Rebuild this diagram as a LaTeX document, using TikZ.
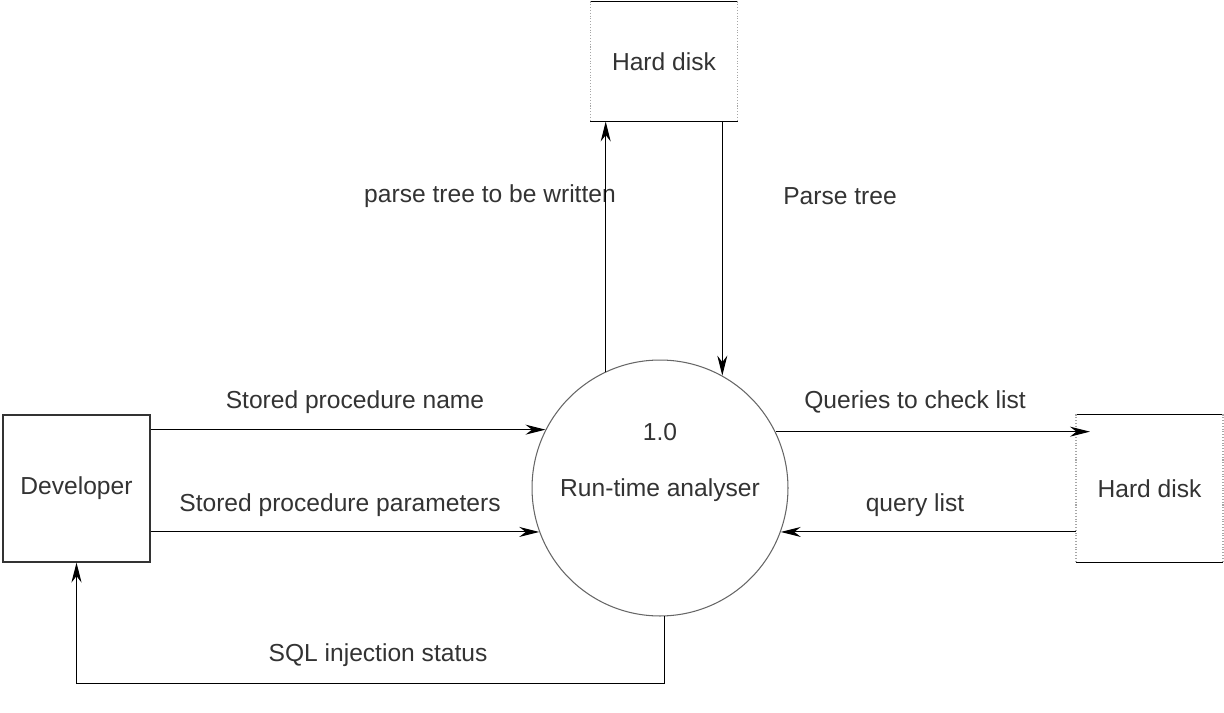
\documentclass[tikz,border=0pt]{standalone}
\usepackage{fontspec}
\setmainfont{Liberation Sans}
\usetikzlibrary{arrows.meta}

\begin{document}
\begin{tikzpicture}
  [x=0.02cm,y=-0.02cm,line width=0.6pt,
   every node/.style={font=\fontsize{14}{17}\selectfont,text=black!80},
   entity/.style={draw=black!80,inner sep=0pt,minimum width=2.94cm,minimum height=2.94cm},
   store/.style={inner sep=0pt,minimum width=2.92cm},
   process/.style={circle,draw=black!60,inner sep=0pt,minimum size=5.12cm},
   flow/.style={-{Stealth[length=4mm,width=2mm]}}]
  \useasboundingbox (0,0) rectangle (1224,713);

  \node[entity] (dev) at (76.5,488.5) {Developer};
  \node[process] (run) at (660,488) {};
  \node (num) at (660,432) {1.0};
  \node (name) at (660,490) {Run-time analyser};
  \node[store,minimum height=2.38cm] (hd1) at (664,61.5) {Hard disk};
  \node[store,minimum height=2.94cm] (hd2) at (1149.5,488.5) {Hard disk};

  % data stores: solid top and bottom, faint sides
  \foreach \s in {hd1,hd2} {
    \draw (\s.north west) -- (\s.north east);
    \draw (\s.south west) -- (\s.south east);
    \draw[black!35,densely dotted] (\s.north west) -- (\s.south west);
    \draw[black!35,densely dotted] (\s.north east) -- (\s.south east);
  }

  \node (l1) at (355,402) {Stored procedure name};
  \node (l2) at (340,505) {Stored procedure parameters};
  \node (l3) at (490,196) {parse tree to be written};
  \node (l4) at (840,196) {Parse tree};
  \node (l5) at (915,402) {Queries to check list};
  \node (l6) at (915,505) {query list};
  \node (l7) at (378,655) {SQL injection status};

  \draw[flow] (run.153.1 -| dev.east) -- (run.153.1);
  \draw[flow] (run.200.1 -| dev.east) -- (run.200.1);
  \draw[flow] (run.115.9) -- (run.115.9 |- hd1.south);
  \draw[flow] (run.61 |- hd1.south) -- (run.61);
  \draw[flow,shorten >=-0.28cm] (run.26.9) -- (run.26.9 -| hd2.west);
  \draw[flow] (run.-20.1 -| hd2.west) -- (run.-20.1);
  \draw[flow] (run.-88.2) -- ++(0,67) -| (dev.south);

\end{tikzpicture}
\end{document}
